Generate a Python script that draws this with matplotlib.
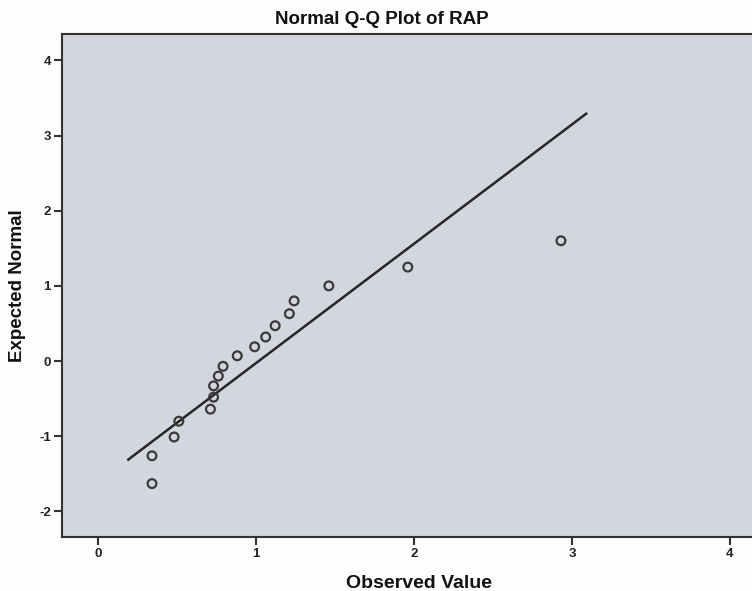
import matplotlib
matplotlib.use("Agg")
import matplotlib.pyplot as plt

observado = [0.34, 0.34, 0.48, 0.51, 0.71, 0.73, 0.73, 0.76, 0.79,
             0.88, 0.99, 1.06, 1.12, 1.21, 1.24, 1.46, 1.96, 2.93]
esperado = [-1.63, -1.26, -1.01, -0.80, -0.64, -0.48, -0.33, -0.20, -0.07,
            0.07, 0.19, 0.32, 0.47, 0.63, 0.80, 1.00, 1.25, 1.60]

# Recta de referencia normal (extremos)
recta_x = [0.19, 3.09]
recta_y = [-1.31, 3.29]

ticks_x = [0, 1, 2, 3, 4]
ticks_y = [-2, -1, 0, 1, 2, 3, 4]

plt.rcParams["font.family"] = ["Liberation Sans", "DejaVu Sans"]

fig = plt.figure(figsize=(7.52, 5.91), dpi=100)
fig.patch.set_facecolor("#fdfdfd")
ax = fig.add_axes([62 / 752, 1 - 537 / 591, 1 - 62 / 752, (537 - 34) / 591])
ax.set_facecolor("#d3d6de")

ax.plot(recta_x, recta_y, color="#262626", lw=1.8, zorder=2)
ax.scatter(observado, esperado, s=40, facecolors="none",
           edgecolors="#3a3a3a", linewidths=1.6, zorder=3)

ax.set_xlim(-0.23, 4.14)
ax.set_ylim(-2.34, 4.35)
ax.set_xticks(ticks_x)
ax.set_yticks(ticks_y)
# SPSS usa guion normal para los negativos
ax.set_xticklabels([str(t) for t in ticks_x])
ax.set_yticklabels([str(t) for t in ticks_y])
ax.tick_params(direction="out", length=6, width=1.5, color="#333333",
               labelsize=9.5, labelcolor="#222222", pad=2)
for lab in ax.get_xticklabels() + ax.get_yticklabels():
    lab.set_fontweight("bold")

for lado in ["left", "bottom", "top"]:
    ax.spines[lado].set_linewidth(1.5)
    ax.spines[lado].set_color("#333333")
ax.spines["right"].set_visible(False)

fig.text(381.7 / 752, 1 - 20 / 591, "Normal Q-Q Plot of RAP",
         ha="center", va="center", fontsize=13.5, fontweight="bold",
         color="#111111")
fig.text(419 / 752, 1 - 583 / 591, "Observed Value",
         ha="center", va="center", fontsize=14, fontweight="bold",
         color="#111111")
fig.text(18 / 752, 1 - 286 / 591, "Expected Normal", rotation=90,
         ha="center", va="center", fontsize=13.5, fontweight="bold",
         color="#111111")

fig.savefig("out.png", dpi=100, facecolor=fig.get_facecolor())
